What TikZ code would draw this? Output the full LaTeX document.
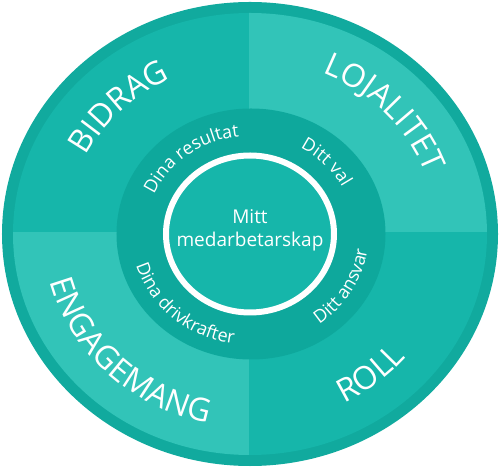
\documentclass[tikz,border=0pt]{standalone}
\usepackage{fontspec}
\setmainfont{Open Sans}
\usetikzlibrary{decorations.text}
\definecolor{rimteal}{RGB}{17,170,158}
\definecolor{quaddark}{RGB}{22,182,170}
\definecolor{quadlight}{RGB}{50,196,184}
\definecolor{ringteal}{RGB}{14,168,156}
\newcommand\bigfont{\fontsize{32bp}{38bp}\selectfont}
\newcommand\smallfont{\fontsize{18bp}{22bp}\selectfont}

\begin{document}
\begin{tikzpicture}[x=1bp, y=1bp,
  outerlbl/.style={decorate, decoration={text along path, text align=center,
    text={|\bigfont\color{white}|#1}}},
  ringlbl/.style={decorate, decoration={text along path, text align=center,
    text={|\smallfont\color{white}|#1}}},
]
\useasboundingbox (-250,-233) rectangle (250,234);

% --- Outer rim and quadrants ---
\fill[rimteal] (0,0) ellipse[x radius=248, y radius=232];
\begin{scope}
  \clip (0,0) ellipse[x radius=237, y radius=221];
  \fill[quaddark] (-250,2) rectangle (-1,240);
  \fill[quadlight] (-1,2) rectangle (250,240);
  \fill[quadlight] (-250,-240) rectangle (-1,2);
  \fill[quaddark] (-1,-240) rectangle (250,2);
\end{scope}

% --- Middle ring and core ---
\fill[ringteal] (1,0) ellipse[x radius=134.5, y radius=125.5];
\filldraw[fill=quaddark, draw=white, line width=6bp] (0,0)
  ellipse[x radius=84, y radius=78.5];
\node[text=white, align=center, font=\fontsize{19bp}{23bp}\selectfont]
  (core) at (0,4) {Mitt\\medarbetarskap};

% --- Outer labels ---
\path[outerlbl=BIDRAG] (195.5:183.9 and 172)
  arc[start angle=195.5, end angle=75.5, x radius=183.9, y radius=172];
\path[outerlbl=LOJALITET] (102.5:187.1 and 175)
  arc[start angle=102.5, end angle=-17.5, x radius=187.1, y radius=175];
\path[outerlbl=ROLL] (-110:204.2 and 191)
  arc[start angle=-110, end angle=10, x radius=204.2, y radius=191];
\path[outerlbl=ENGAGEMANG] (145:206.3 and 193)
  arc[start angle=145, end angle=305, x radius=206.3, y radius=193];

% --- Ring labels ---
\path[ringlbl=Dina resultat] (187:104.8 and 98)
  arc[start angle=187, end angle=67, x radius=104.8, y radius=98];
\path[ringlbl=Ditt val] (103.5:104.8 and 98)
  arc[start angle=103.5, end angle=-16.5, x radius=104.8, y radius=98];
\path[ringlbl=Ditt ansvar] (-100:118.7 and 111)
  arc[start angle=-100, end angle=40, x radius=118.7, y radius=111];
\path[ringlbl=Dina drivkrafter] (148:118.7 and 111)
  arc[start angle=148, end angle=308, x radius=118.7, y radius=111];
\end{tikzpicture}
\end{document}
